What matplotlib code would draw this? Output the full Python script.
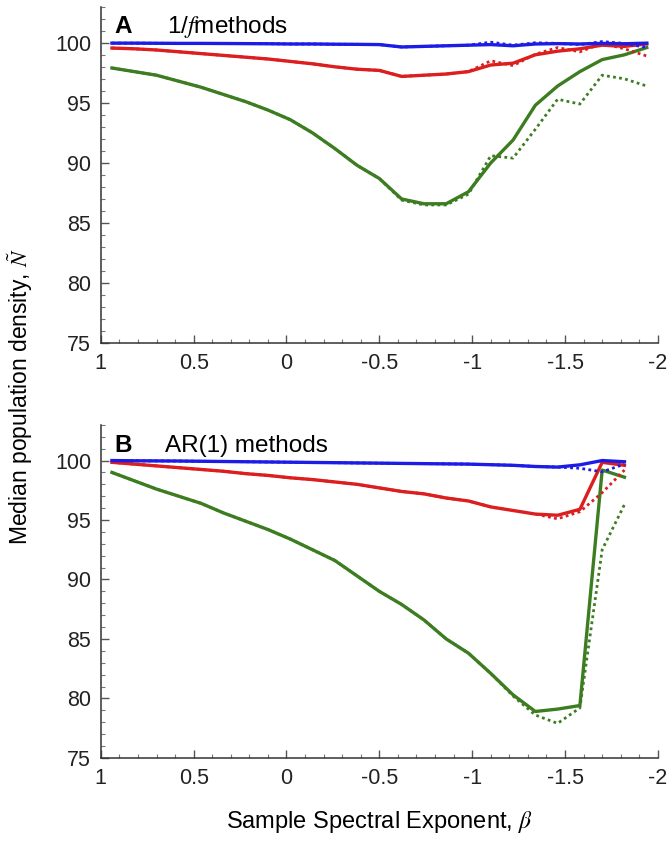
import matplotlib
matplotlib.use('Agg')
import matplotlib.pyplot as plt
from matplotlib.ticker import MultipleLocator

plt.rcParams['font.family'] = ['Liberation Sans', 'DejaVu Sans']
plt.rcParams['mathtext.fontset'] = 'stix'

# sample spectral exponent (beta) values
beta_a = [0.94, 0.82, 0.70, 0.58, 0.46, 0.34, 0.22, 0.10, -0.02, -0.14, -0.26, -0.38, -0.50,
          -0.62, -0.74, -0.86, -0.98, -1.10, -1.22, -1.34, -1.46, -1.58, -1.70, -1.82, -1.94]
beta_b = beta_a[:-1]

# panel A: 1/f methods
a_blue = [99.97, 99.97, 99.96, 99.95, 99.95, 99.94, 99.93, 99.92, 99.90, 99.90, 99.88, 99.87, 99.85,
          99.65, 99.70, 99.75, 99.80, 99.85, 99.75, 99.90, 99.93, 99.90, 99.95, 99.92, 99.97]
a_blue_dot = [99.97, 99.97, 99.96, 99.95, 99.95, 99.94, 99.93, 99.92, 99.90, 99.90, 99.88, 99.87, 99.85,
              99.65, 99.70, 99.75, 99.80, 100.05, 99.80, 100.00, 99.95, 99.85, 100.10, 99.95, 99.60]
a_red = [99.56, 99.50, 99.40, 99.25, 99.10, 98.95, 98.80, 98.65, 98.45, 98.25, 98.00, 97.80, 97.70,
         97.20, 97.30, 97.40, 97.60, 98.15, 98.30, 99.00, 99.30, 99.50, 99.80, 99.70, 99.90]
a_red_dot = [99.56, 99.50, 99.40, 99.25, 99.10, 98.95, 98.80, 98.65, 98.45, 98.25, 98.00, 97.80, 97.70,
             97.20, 97.30, 97.40, 97.60, 98.50, 98.10, 99.05, 99.60, 99.25, 99.95, 99.50, 98.90]
a_green = [97.9, 97.6, 97.3, 96.8, 96.3, 95.7, 95.1, 94.4, 93.6, 92.5, 91.2, 89.8, 88.7,
           87.0, 86.6, 86.6, 87.6, 90.0, 91.9, 94.8, 96.4, 97.6, 98.6, 99.0, 99.6]
a_green_dot = [97.9, 97.6, 97.3, 96.8, 96.3, 95.7, 95.1, 94.4, 93.6, 92.5, 91.2, 89.8, 88.7,
               86.9, 86.5, 86.5, 87.4, 90.6, 90.4, 92.8, 95.3, 94.9, 97.3, 97.0, 96.4]

# panel B: AR(1) methods
b_blue = [100.0, 99.98, 99.97, 99.96, 99.94, 99.92, 99.90, 99.88, 99.86, 99.84, 99.82, 99.80,
          99.78, 99.76, 99.74, 99.72, 99.70, 99.65, 99.60, 99.50, 99.45, 99.64, 100.0, 99.90]
b_blue_dot = [100.0, 99.98, 99.97, 99.96, 99.94, 99.92, 99.90, 99.88, 99.86, 99.84, 99.82, 99.80,
              99.78, 99.76, 99.74, 99.72, 99.70, 99.65, 99.60, 99.50, 99.45, 99.35, 99.05, 99.70]
b_red = [99.85, 99.70, 99.55, 99.40, 99.25, 99.10, 98.90, 98.75, 98.55, 98.40, 98.20, 98.00,
         97.70, 97.40, 97.20, 96.85, 96.60, 96.10, 95.80, 95.50, 95.40, 95.90, 99.85, 99.60]
b_red_dot = [99.85, 99.70, 99.55, 99.40, 99.25, 99.10, 98.90, 98.75, 98.55, 98.40, 98.20, 98.00,
             97.70, 97.40, 97.20, 96.85, 96.60, 96.10, 95.80, 95.50, 95.10, 95.70, 97.30, 99.20]
b_green = [99.0, 98.3, 97.6, 97.0, 96.4, 95.6, 94.9, 94.2, 93.4, 92.5, 91.6, 90.3,
           89.0, 87.9, 86.6, 85.0, 83.8, 82.1, 80.3, 78.9, 79.1, 79.4, 99.2, 98.6]
b_green_dot = [99.0, 98.3, 97.6, 97.0, 96.4, 95.6, 94.9, 94.2, 93.4, 92.5, 91.6, 90.3,
               89.0, 87.9, 86.6, 85.0, 83.8, 82.1, 80.2, 78.6, 77.9, 79.2, 92.5, 96.3]

xtick_vals = [1, 0.5, 0, -0.5, -1, -1.5, -2]
xtick_labels = ['1', '0.5', '0', '-0.5', '-1', '-1.5', '-2']

BLUE = '#1c1ce6'
RED = '#dc1e1e'
GREEN = '#3d7d22'
dot = (0, (1.0, 1.2))

fig = plt.figure(figsize=(6.72, 8.43), dpi=100)
ax_a = fig.add_axes([0.150, 0.593, 0.829, 0.399])
ax_b = fig.add_axes([0.150, 0.101, 0.829, 0.395])

panels = [
    (ax_a, beta_a, [(a_green, a_green_dot, GREEN), (a_red, a_red_dot, RED), (a_blue, a_blue_dot, BLUE)]),
    (ax_b, beta_b, [(b_green, b_green_dot, GREEN), (b_red, b_red_dot, RED), (b_blue, b_blue_dot, BLUE)]),
]

for ax, xs, series in panels:
    for solid, dotted, col in series:
        ax.plot(xs, dotted, color=col, lw=2.0, ls=dot)
        ax.plot(xs, solid, color=col, lw=2.4)
    ax.set_xlim(1, -2)
    ax.set_ylim(75, 103)
    ax.set_xticks(xtick_vals)
    ax.set_xticklabels(xtick_labels)
    ax.set_yticks([75, 80, 85, 90, 95, 100])
    ax.xaxis.set_minor_locator(MultipleLocator(0.1))
    ax.yaxis.set_minor_locator(MultipleLocator(1))
    for s in ['top', 'right']:
        ax.spines[s].set_visible(False)
    for s in ['left', 'bottom']:
        ax.spines[s].set_color('#333333')
        ax.spines[s].set_linewidth(1.1)
    ax.tick_params(which='major', direction='in', length=6, width=1.0, color='#555555',
                   labelsize=15.5, labelcolor='#222222', pad=7)
    ax.tick_params(which='minor', direction='in', length=3, width=0.8, color='#777777')

ax_a.text(0.025, 0.923, 'A', transform=ax_a.transAxes, fontsize=17.5, fontweight='bold')
ax_a.text(0.118, 0.923, r'1/$f$methods', transform=ax_a.transAxes, fontsize=17.5)
ax_b.text(0.025, 0.919, 'B', transform=ax_b.transAxes, fontsize=17.5, fontweight='bold')
ax_b.text(0.115, 0.919, 'AR(1) methods', transform=ax_b.transAxes, fontsize=17.5)

ax_b.set_xlabel(r'Sample Spectral Exponent, $\beta$', fontsize=17, labelpad=15)
fig.text(0.03, 0.53, r'Median population density, $\tilde{N}$', rotation=90,
         fontsize=16.5, ha='center', va='center')

fig.savefig('out.png', dpi=100)
